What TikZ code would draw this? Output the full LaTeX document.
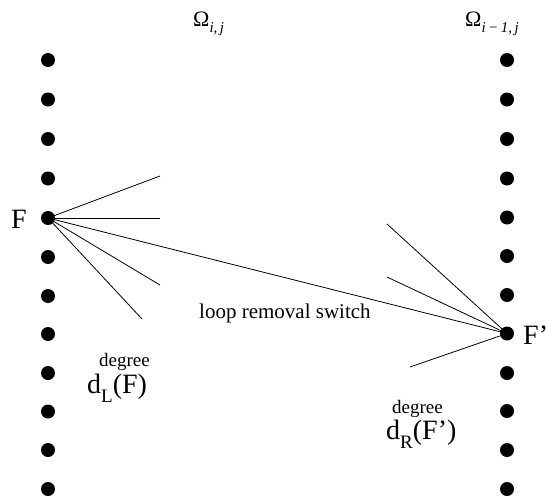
\documentclass[tikz,border=0pt]{standalone}
\usepackage{fontspec}
\setmainfont{Liberation Serif}
\begin{document}
\begin{tikzpicture}[x=1pt,y=-1pt,
  dot/.style={circle,fill=black,inner sep=0pt,minimum size=14pt},
  edge/.style={line width=0.8pt},
  lbl/.style={inner sep=0pt,anchor=base west},
  bigtext/.style={font=\fontsize{28}{30}\selectfont},
  smalltext/.style={font=\fontsize{19}{21}\selectfont},
  midtext/.style={font=\fontsize{21}{23}\selectfont},
  omegatext/.style={font=\fontsize{22}{24}\selectfont}]
\useasboundingbox (0,0) rectangle (546,498);
\clip (0,0) rectangle (546,498);

% two columns of vertices
\foreach \y [count=\k from 0] in {60,99.5,139,178.5,218,257,296,334,373,411.5,450,489}
  \node[dot] (L\k) at (48,\y) {};
\foreach \y [count=\k from 0] in {60,99.5,139,178.5,217.5,256,295,333.5,373,411,450,489}
  \node[dot] (R\k) at (507,\y) {};

% column titles
\node[lbl,omegatext] (tl) at (193,26) {Ω\raisebox{-0.28em}{\fontsize{15}{16}\selectfont\itshape i,\,j}};
\node[lbl,omegatext] (tr) at (465,26) {Ω\raisebox{-0.28em}{\fontsize{15}{16}\selectfont\itshape i\,−\,1,\,j}};

% vertex labels
\node[lbl,bigtext] (fl) at (11,228) {F};
\node[lbl,bigtext] (fr) at (523,344) {F’};

% edges leaving F
\coordinate (a1) at (160,176);
\coordinate (a2) at (160,218);
\coordinate (a3) at (160,285);
\coordinate (a4) at (142,319);
\foreach \c in {a1,a2,a3,a4} \draw[edge] (L4.center) -- (\c);

% edges entering F'
\coordinate (b1) at (387,224);
\coordinate (b2) at (387,277);
\coordinate (b3) at (410,367);
\foreach \c in {b1,b2,b3} \draw[edge] (R7.center) -- (\c);

% the switch edge
\draw[edge] (L4.center) -- (R7.center);
\node[lbl,midtext] (sw) at (199,318) {loop removal switch};

% degree annotations
\node[lbl,smalltext] (dgl) at (99,366) {degree};
\node[lbl,bigtext] (dl) at (87,393) {d\raisebox{-0.35em}{\fontsize{19}{20}\selectfont L}(F)};
\node[lbl,smalltext] (dgr) at (392,413) {degree};
\node[lbl,bigtext] (dr) at (386,439) {d\raisebox{-0.35em}{\fontsize{19}{20}\selectfont R}(F’)};
\end{tikzpicture}
\end{document}
